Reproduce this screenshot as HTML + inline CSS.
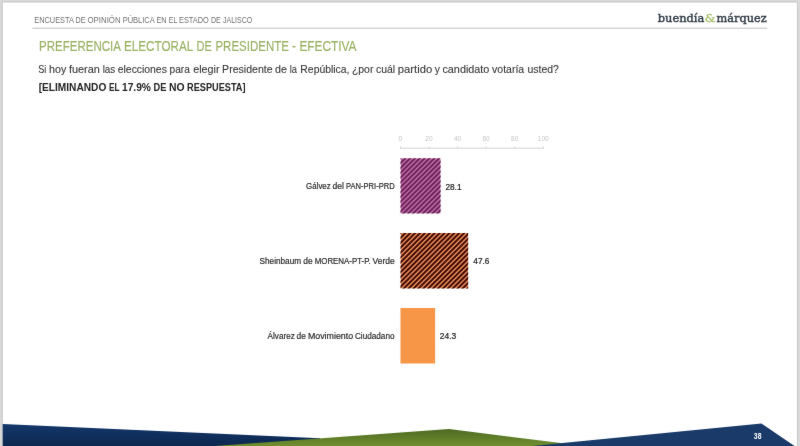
<!DOCTYPE html>
<html lang="es">
<head>
<meta charset="utf-8">
<title>Preferencia electoral de presidente - efectiva</title>
<style>
html,body{margin:0;padding:0;background:#fff;}
body{width:800px;height:446px;overflow:hidden;position:relative;font-family:"Liberation Sans",sans-serif;}
svg{position:absolute;left:0;top:0;display:block;}
text{font-family:"Liberation Sans",sans-serif;white-space:pre;}
.logo{font-family:"DejaVu Serif","Liberation Serif",serif;}
</style>
</head>
<body>
<svg width="800" height="446" viewBox="0 0 800 446" role="img" aria-label="Preferencia electoral de presidente - efectiva">
  <defs>
    <filter id="soft" filterUnits="userSpaceOnUse" x="0" y="0" width="800" height="446" color-interpolation-filters="sRGB">
      <feConvolveMatrix order="3" kernelMatrix="0.01 0.04 0.01 0.04 0.8 0.04 0.01 0.04 0.01" divisor="1" edgeMode="duplicate" preserveAlpha="false"/>
    </filter>
    <clipPath id="b1"><rect x="400.5" y="158.2" width="40.1" height="55.3"/></clipPath>
    <clipPath id="b2"><rect x="400.5" y="233.0" width="67.7" height="55.5"/></clipPath>
    <linearGradient id="gb" x1="0" y1="0" x2="0" y2="1">
      <stop offset="0" stop-color="#14376b"/>
      <stop offset="1" stop-color="#0c274f"/>
    </linearGradient>
    <linearGradient id="gg" x1="0" y1="0" x2="0" y2="1">
      <stop offset="0" stop-color="#4c6a22"/>
      <stop offset="1" stop-color="#718f2e"/>
    </linearGradient>
  </defs>

  <!-- page frame -->
  <rect x="0" y="0" width="800" height="446" fill="#ffffff"/>
  <rect x="0" y="0" width="800" height="2.4" fill="#d9d9d9"/>
  <rect x="0" y="1.5" width="800" height="0.9" fill="#c9c9c9"/>
  <rect x="0" y="0" width="2.7" height="446" fill="#d8d8d8"/>
  <rect x="1.8" y="1.5" width="0.9" height="444.5" fill="#cacaca"/>
  <rect x="796.9" y="0" width="3.1" height="446" fill="#d9d9d9"/>
  <rect x="796.9" y="1.5" width="0.9" height="444.5" fill="#cdcdcd"/>

  <g filter="url(#soft)">
  <!-- header -->
  <g>
    <text y="23.35" font-size="8.5" fill="#6e6e6e"><tspan x="34.32" textLength="39.15" lengthAdjust="spacingAndGlyphs">ENCUESTA</tspan> <tspan x="75.57" textLength="9.91" lengthAdjust="spacingAndGlyphs">DE</tspan> <tspan x="87.53" textLength="33.07" lengthAdjust="spacingAndGlyphs">OPINIÓN</tspan> <tspan x="122.70" textLength="31.62" lengthAdjust="spacingAndGlyphs">PÚBLICA</tspan> <tspan x="156.41" textLength="10.18" lengthAdjust="spacingAndGlyphs">EN</tspan> <tspan x="168.78" textLength="8.21" lengthAdjust="spacingAndGlyphs">EL</tspan> <tspan x="179.02" textLength="29.83" lengthAdjust="spacingAndGlyphs">ESTADO</tspan> <tspan x="210.93" textLength="9.91" lengthAdjust="spacingAndGlyphs">DE</tspan> <tspan x="222.97" textLength="29.27" lengthAdjust="spacingAndGlyphs">JALISCO</tspan></text>
  </g>
  <rect x="32.3" y="27.7" width="734.9" height="1.1" fill="#c8c8c8"/>
  <g>
    <text class="logo" y="21.80" font-size="11.6" fill="#2f3a45" stroke="#2f3a45" stroke-width="0.42"><tspan x="657.69" textLength="46.63" lengthAdjust="spacingAndGlyphs">buendía</tspan><tspan x="704.85" textLength="10.83" lengthAdjust="spacingAndGlyphs" fill="#a2be66" stroke="#a2be66" stroke-width="0.3">&amp;</tspan><tspan x="716.60" textLength="50.22" lengthAdjust="spacingAndGlyphs">márquez</tspan></text>
  </g>

  <!-- title and question -->
  <g>
    <text y="51.20" font-size="15.4" fill="#98b062" stroke="#98b062" stroke-width="0.15"><tspan x="39.09" textLength="81.15" lengthAdjust="spacingAndGlyphs">PREFERENCIA</tspan> <tspan x="124.05" textLength="68.80" lengthAdjust="spacingAndGlyphs">ELECTORAL</tspan> <tspan x="196.55" textLength="15.26" lengthAdjust="spacingAndGlyphs">DE</tspan> <tspan x="215.45" textLength="73.42" lengthAdjust="spacingAndGlyphs">PRESIDENTE</tspan> <tspan x="292.10" textLength="3.96" lengthAdjust="spacingAndGlyphs">-</tspan> <tspan x="299.43" textLength="57.08" lengthAdjust="spacingAndGlyphs">EFECTIVA</tspan></text>
  </g>
  <g>
    <text y="73.25" font-size="10.5" fill="#363636" stroke="#363636" stroke-width="0.1"><tspan x="38.26" textLength="8.04" lengthAdjust="spacingAndGlyphs">Si</tspan> <tspan x="49.02" textLength="17.25" lengthAdjust="spacingAndGlyphs">hoy</tspan> <tspan x="68.91" textLength="31.00" lengthAdjust="spacingAndGlyphs">fueran</tspan> <tspan x="102.66" textLength="12.54" lengthAdjust="spacingAndGlyphs">las</tspan> <tspan x="117.80" textLength="49.05" lengthAdjust="spacingAndGlyphs">elecciones</tspan> <tspan x="169.60" textLength="20.29" lengthAdjust="spacingAndGlyphs">para</tspan> <tspan x="193.19" textLength="26.29" lengthAdjust="spacingAndGlyphs">elegir</tspan> <tspan x="222.08" textLength="50.52" lengthAdjust="spacingAndGlyphs">Presidente</tspan> <tspan x="275.13" textLength="11.90" lengthAdjust="spacingAndGlyphs">de</tspan> <tspan x="289.76" textLength="7.29" lengthAdjust="spacingAndGlyphs">la</tspan> <tspan x="300.37" textLength="49.06" lengthAdjust="spacingAndGlyphs">República,</tspan> <tspan x="351.97" textLength="21.39" lengthAdjust="spacingAndGlyphs">¿por</tspan> <tspan x="375.94" textLength="19.10" lengthAdjust="spacingAndGlyphs">cuál</tspan> <tspan x="397.85" textLength="34.30" lengthAdjust="spacingAndGlyphs">partido</tspan> <tspan x="434.74" textLength="5.14" lengthAdjust="spacingAndGlyphs">y</tspan> <tspan x="442.45" textLength="46.94" lengthAdjust="spacingAndGlyphs">candidato</tspan> <tspan x="492.05" textLength="32.14" lengthAdjust="spacingAndGlyphs">votaría</tspan> <tspan x="527.56" textLength="31.31" lengthAdjust="spacingAndGlyphs">usted?</tspan></text>
  </g>
  <g>
    <text y="91.30" font-size="10.3" font-weight="bold" fill="#222222"><tspan x="38.64" textLength="67.66" lengthAdjust="spacingAndGlyphs">[ELIMINANDO</tspan> <tspan x="108.88" textLength="10.44" lengthAdjust="spacingAndGlyphs">EL</tspan> <tspan x="122.00" textLength="28.94" lengthAdjust="spacingAndGlyphs">17.9%</tspan> <tspan x="153.58" textLength="12.84" lengthAdjust="spacingAndGlyphs">DE</tspan> <tspan x="169.03" textLength="15.58" lengthAdjust="spacingAndGlyphs">NO</tspan> <tspan x="187.12" textLength="58.36" lengthAdjust="spacingAndGlyphs">RESPUESTA]</tspan></text>
  </g>

  <!-- axis -->
  <g>
    <text x="400.3" y="141.3" font-size="6.5" fill="#c4c4c4" text-anchor="middle">0</text>
    <text x="428.9" y="141.3" font-size="6.5" fill="#c4c4c4" text-anchor="middle">20</text>
    <text x="457.5" y="141.3" font-size="6.5" fill="#c4c4c4" text-anchor="middle">40</text>
    <text x="486.1" y="141.3" font-size="6.5" fill="#c4c4c4" text-anchor="middle">60</text>
    <text x="514.7" y="141.3" font-size="6.5" fill="#c4c4c4" text-anchor="middle">80</text>
    <text x="543.3" y="141.3" font-size="6.5" fill="#c4c4c4" text-anchor="middle">100</text>
  </g>
  <g stroke="#d3d5d5" stroke-width="1" fill="none">
    <path d="M400,148.2 H544"/>
    <path d="M400.5,146.5 V148.5 M429,146.5 V148.5 M457.6,146.5 V148.5 M486.2,146.5 V148.5 M514.8,146.5 V148.5 M543.4,146.5 V148.5"/>
  </g>

  <!-- bars -->
<g clip-path="url(#b1)"><rect x="400.5" y="158.2" width="40.1" height="55.3" fill="#bb63a8"/><path d="M343.20,215.50L402.50,156.20M348.05,215.50L407.35,156.20M352.90,215.50L412.20,156.20M357.75,215.50L417.05,156.20M362.60,215.50L421.90,156.20M367.45,215.50L426.75,156.20M372.30,215.50L431.60,156.20M377.15,215.50L436.45,156.20M382.00,215.50L441.30,156.20M386.85,215.50L446.15,156.20M391.70,215.50L451.00,156.20M396.55,215.50L455.85,156.20M401.40,215.50L460.70,156.20M406.25,215.50L465.55,156.20M411.10,215.50L470.40,156.20M415.95,215.50L475.25,156.20M420.80,215.50L480.10,156.20M425.65,215.50L484.95,156.20M430.50,215.50L489.80,156.20M435.35,215.50L494.65,156.20M440.20,215.50L499.50,156.20" stroke="#66234f" stroke-width="1.75" fill="none"/></g>
  <g clip-path="url(#b2)"><rect x="400.5" y="233.0" width="67.7" height="55.5" fill="#e0875a"/><path d="M343.00,290.50L402.50,231.00M347.90,290.50L407.40,231.00M352.80,290.50L412.30,231.00M357.70,290.50L417.20,231.00M362.60,290.50L422.10,231.00M367.50,290.50L427.00,231.00M372.40,290.50L431.90,231.00M377.30,290.50L436.80,231.00M382.20,290.50L441.70,231.00M387.10,290.50L446.60,231.00M392.00,290.50L451.50,231.00M396.90,290.50L456.40,231.00M401.80,290.50L461.30,231.00M406.70,290.50L466.20,231.00M411.60,290.50L471.10,231.00M416.50,290.50L476.00,231.00M421.40,290.50L480.90,231.00M426.30,290.50L485.80,231.00M431.20,290.50L490.70,231.00M436.10,290.50L495.60,231.00M441.00,290.50L500.50,231.00M445.90,290.50L505.40,231.00M450.80,290.50L510.30,231.00M455.70,290.50L515.20,231.00M460.60,290.50L520.10,231.00M465.50,290.50L525.00,231.00M470.40,290.50L529.90,231.00" stroke="#420a00" stroke-width="1.9" fill="none"/></g>
  <rect x="400.5" y="308" width="34.6" height="55.5" fill="#f79646"/>

  <!-- category labels -->
  <g>
    <text y="188.70" font-size="8.5" fill="#262626" stroke="#262626" stroke-width="0.18"><tspan x="306.10" textLength="24.62" lengthAdjust="spacingAndGlyphs">Gálvez</tspan> <tspan x="332.60" textLength="11.33" lengthAdjust="spacingAndGlyphs">del</tspan> <tspan x="346.10" textLength="48.55" lengthAdjust="spacingAndGlyphs">PAN-PRI-PRD</tspan></text>
    <text y="263.60" font-size="8.5" fill="#262626" stroke="#262626" stroke-width="0.18"><tspan x="259.53" textLength="41.59" lengthAdjust="spacingAndGlyphs">Sheinbaum</tspan> <tspan x="303.21" textLength="9.36" lengthAdjust="spacingAndGlyphs">de</tspan> <tspan x="314.68" textLength="55.95" lengthAdjust="spacingAndGlyphs">MORENA-PT-P.</tspan> <tspan x="372.56" textLength="22.19" lengthAdjust="spacingAndGlyphs">Verde</tspan></text>
    <text y="338.50" font-size="8.5" fill="#262626" stroke="#262626" stroke-width="0.18"><tspan x="267.58" textLength="27.16" lengthAdjust="spacingAndGlyphs">Álvarez</tspan> <tspan x="296.60" textLength="9.32" lengthAdjust="spacingAndGlyphs">de</tspan> <tspan x="307.94" textLength="45.15" lengthAdjust="spacingAndGlyphs">Movimiento</tspan> <tspan x="354.98" textLength="39.55" lengthAdjust="spacingAndGlyphs">Ciudadano</tspan></text>
  </g>
  <!-- values -->
  <g>
    <text transform="translate(445.39 189.60) scale(0.9756 1)" font-size="8.5" fill="#1e1e1e" stroke="#1e1e1e" stroke-width="0.22">28.1</text>
    <text transform="translate(473.31 264.40) scale(0.9713 1)" font-size="8.5" fill="#1e1e1e" stroke="#1e1e1e" stroke-width="0.22">47.6</text>
    <text transform="translate(439.78 339.20) scale(0.9921 1)" font-size="8.5" fill="#1e1e1e" stroke="#1e1e1e" stroke-width="0.22">24.3</text>
  </g>

  <!-- footer shapes -->
  <polygon points="2.7,424 320,438.2 320,446 2.7,446" fill="url(#gb)"/>
  <polygon points="215,446 449,429 585,446" fill="url(#gg)"/>
  <polygon points="532,446 761.5,423.6 794.5,446" fill="#1a3a69"/>
  <text transform="translate(753.85 439.20) scale(0.8105 1)" font-size="8.4" font-weight="bold" fill="#ffffff">38</text>
  </g>
</svg>
</body>
</html>
